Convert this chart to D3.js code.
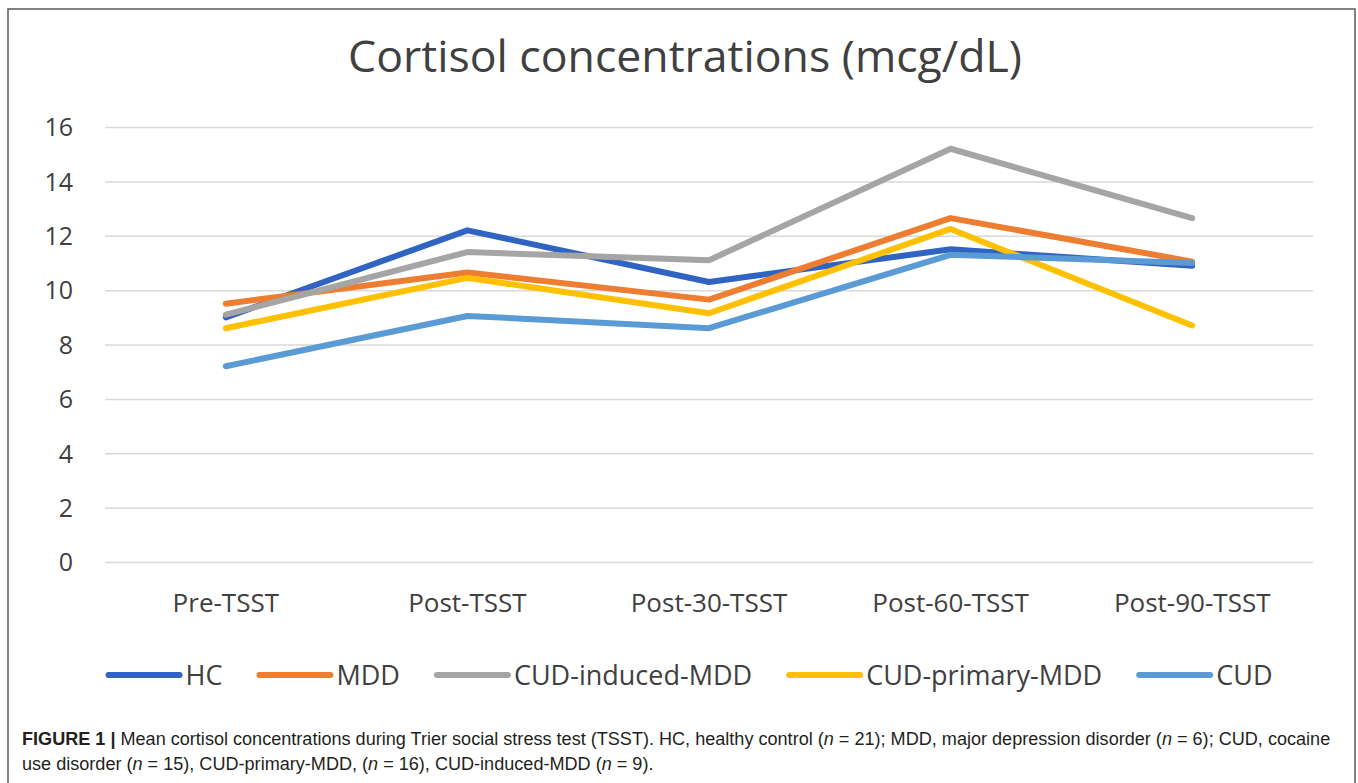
<!DOCTYPE html>
<html>
<head>
<meta charset="utf-8">
<script src="https://cdn.jsdelivr.net/npm/d3@7/dist/d3.min.js"></script>
<style>
  html, body { margin: 0; padding: 0; background: #fff; }
  svg { display: block; }
</style>
</head>
<body>
<svg id="chart" width="1358" height="783"></svg>
<script>
const categories = ["Pre-TSST", "Post-TSST", "Post-30-TSST", "Post-60-TSST", "Post-90-TSST"];
const seriesNames = ["HC", "MDD", "CUD-induced-MDD", "CUD-primary-MDD", "CUD"];
const hcValues = [9.0, 12.2, 10.3, 11.5, 10.9];
const mddValues = [9.5, 10.65, 9.65, 12.65, 11.05];
const cudInducedValues = [9.1, 11.4, 11.1, 15.2, 12.65];
const cudPrimaryValues = [8.6, 10.45, 9.15, 12.25, 8.7];
const cudValues = [7.2, 9.05, 8.6, 11.3, 11.0];
const yTicks = [0, 2, 4, 6, 8, 10, 12, 14, 16];
const titleText = "Cortisol concentrations (mcg/dL)";

const seriesValues = [hcValues, mddValues, cudInducedValues, cudPrimaryValues, cudValues];
const colors = ["#3064C2", "#ED7D31", "#A5A5A5", "#FFC000", "#5B9BD5"];

const svg = d3.select("#chart");
const font = "'Open Sans', sans-serif";
const textColor = "#404040";

// frame
svg.append("rect").attr("x", 8).attr("y", 9).attr("width", 1347).attr("height", 800)
  .attr("fill", "none").attr("stroke", "#595959").attr("stroke-width", 1.5);

const plotLeft = 105, plotRight = 1313;
const x = d3.scaleBand().domain(categories).range([plotLeft, plotRight]);
const y = d3.scaleLinear().domain([0, 16]).range([562, 127]);

// gridlines
const grid = svg.append("g")
  .attr("transform", `translate(${plotLeft},0)`)
  .call(d3.axisLeft(y).tickValues(yTicks).tickSize(-(plotRight - plotLeft)).tickFormat(""));
grid.select(".domain").remove();
grid.selectAll(".tick line").attr("stroke", "#d9d9d9").attr("stroke-width", 1.5);

// y labels
const yAxis = svg.append("g")
  .attr("transform", `translate(73,0)`)
  .call(d3.axisLeft(y).tickValues(yTicks).tickSize(0).tickPadding(0));
yAxis.select(".domain").remove();
yAxis.selectAll("text").attr("font-family", font).attr("font-size", 25)
  .attr("fill", textColor).attr("dy", "0.35em");

// x labels
const xAxis = svg.append("g")
  .attr("transform", `translate(0,562)`)
  .call(d3.axisBottom(x).tickSize(0).tickPadding(0));
xAxis.select(".domain").remove();
xAxis.selectAll("text").attr("font-family", font).attr("font-size", 26)
  .attr("fill", textColor).attr("dy", null).attr("y", 50);

// lines
const line = d3.line()
  .x((d, i) => x(categories[i]) + x.bandwidth() / 2)
  .y(d => y(d));
seriesValues.forEach((vals, k) => {
  svg.append("path").datum(vals)
    .attr("d", line)
    .attr("fill", "none")
    .attr("stroke", colors[k])
    .attr("stroke-width", 6)
    .attr("stroke-linejoin", "round")
    .attr("stroke-linecap", "round");
});

// title
const title = svg.append("text").attr("x", 685).attr("y", 72)
  .attr("text-anchor", "middle").attr("font-family", font)
  .attr("font-size", 44).attr("fill", textColor).text(titleText);
const tw = title.node().getComputedTextLength();
title.attr("font-size", 44 * 674 / tw);

// legend
const legendFont = 27;
const lineLen = 77, textGap = 3, entryGap = 34;
const lg = svg.append("g");
const widths = seriesNames.map(n => {
  const t = lg.append("text").attr("font-family", font).attr("font-size", legendFont).text(n);
  const w = t.node().getComputedTextLength();
  t.remove();
  return w;
});
let total = 0;
widths.forEach((w, i) => { total += lineLen + textGap + w + (i < widths.length - 1 ? entryGap : 0); });
let cx = 689 - total / 2;
const ly = 675;
seriesNames.forEach((n, i) => {
  lg.append("line").attr("x1", cx + 3).attr("x2", cx + lineLen - 3).attr("y1", ly).attr("y2", ly)
    .attr("stroke", colors[i]).attr("stroke-width", 6).attr("stroke-linecap", "round");
  lg.append("text").attr("x", cx + lineLen + textGap).attr("y", ly).attr("dy", "0.36em")
    .attr("font-family", font).attr("font-size", legendFont).attr("fill", textColor).text(n);
  cx += lineLen + textGap + widths[i] + entryGap;
});

// caption
const capFont = "'Liberation Sans', Arial, sans-serif";
const cap1 = svg.append("text").attr("x", 22).attr("y", 745)
  .attr("font-family", capFont).attr("font-size", 18).attr("fill", "#231f20");
cap1.append("tspan").attr("font-weight", "bold").text("FIGURE 1 | ");
cap1.append("tspan").text("Mean cortisol concentrations during Trier social stress test (TSST). HC, healthy control (");
cap1.append("tspan").attr("font-style", "italic").text("n");
cap1.append("tspan").text(" = 21); MDD, major depression disorder (");
cap1.append("tspan").attr("font-style", "italic").text("n");
cap1.append("tspan").text(" = 6); CUD, cocaine");
const w1 = cap1.node().getComputedTextLength();
const capSize = 18 * 1309 / w1;
cap1.attr("font-size", capSize);

const cap2 = svg.append("text").attr("x", 22).attr("y", 770)
  .attr("font-family", capFont).attr("font-size", capSize).attr("fill", "#231f20");
cap2.append("tspan").text("use disorder (");
cap2.append("tspan").attr("font-style", "italic").text("n");
cap2.append("tspan").text(" = 15), CUD-primary-MDD, (");
cap2.append("tspan").attr("font-style", "italic").text("n");
cap2.append("tspan").text(" = 16), CUD-induced-MDD (");
cap2.append("tspan").attr("font-style", "italic").text("n");
cap2.append("tspan").text(" = 9).");
</script>
</body>
</html>
